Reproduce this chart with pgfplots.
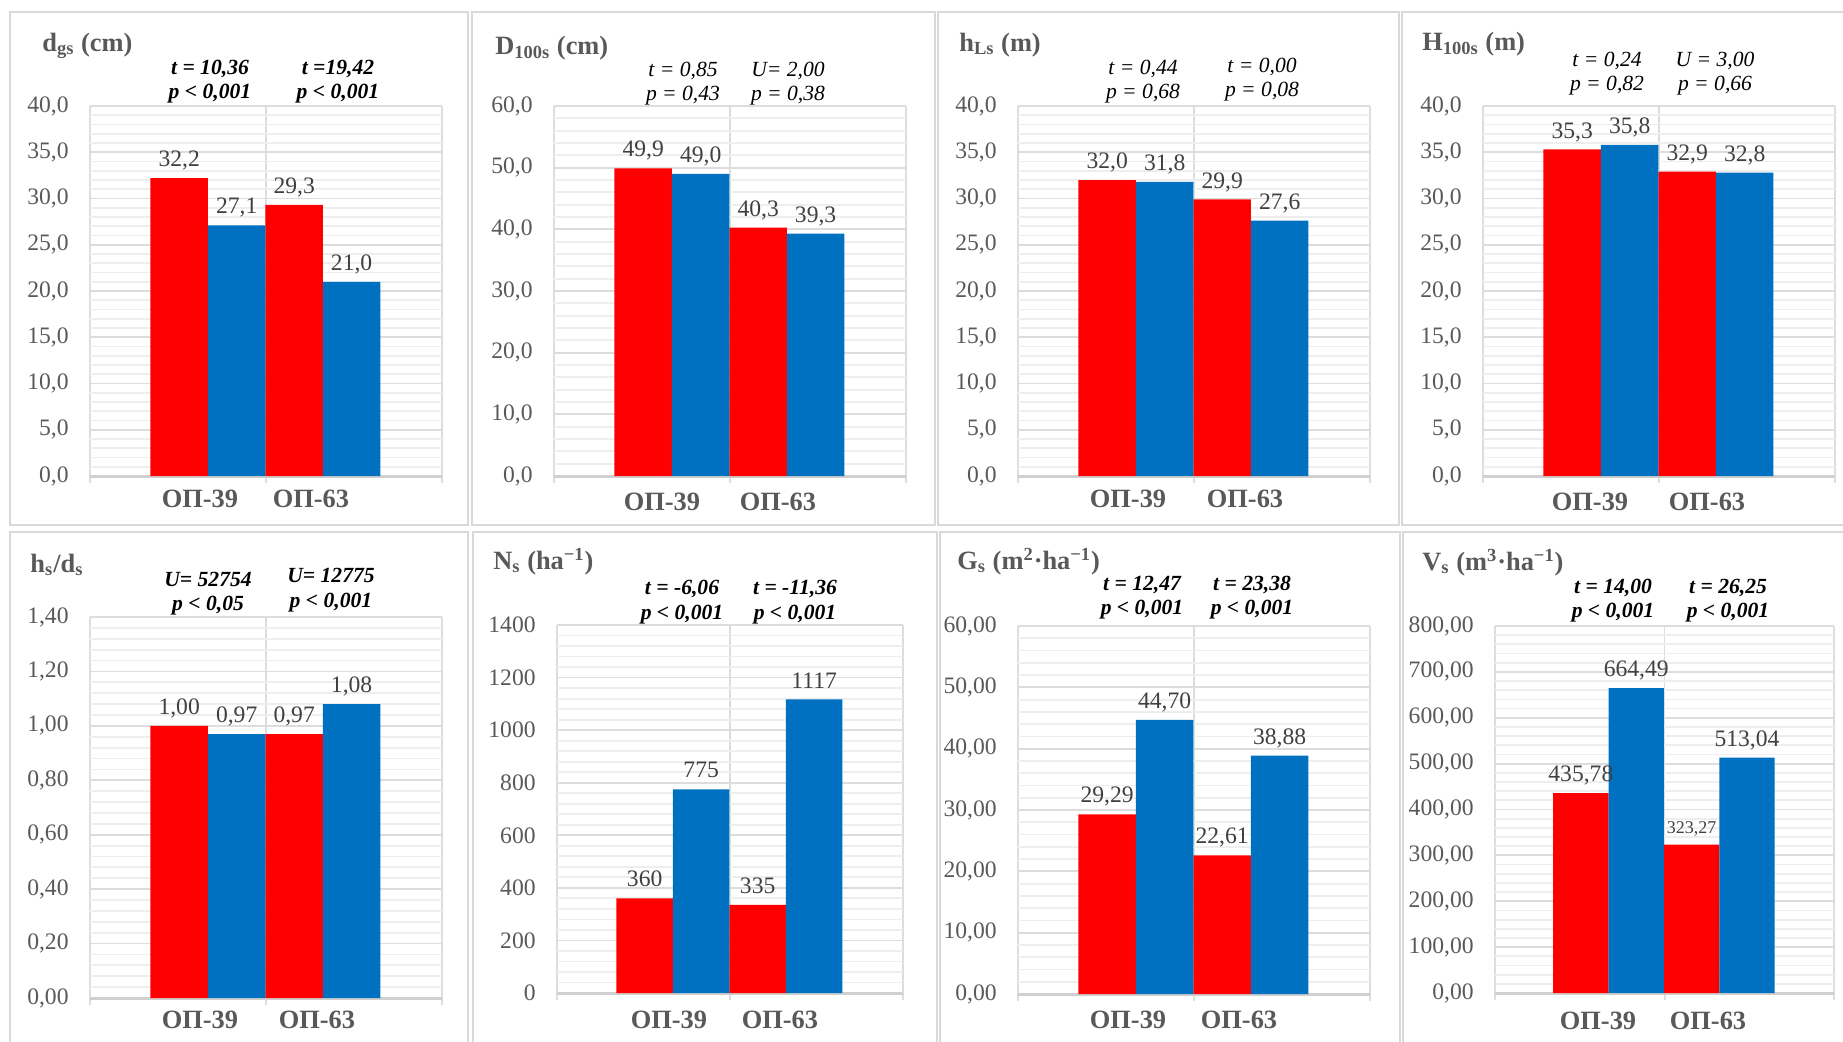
\documentclass[border=0pt]{standalone}
\usepackage{pgfplots}
\pgfplotsset{compat=1.18}
\usepackage{fontspec}
\setmainfont{Liberation Serif}
\definecolor{barred}{HTML}{FF0000}
\definecolor{barblue}{HTML}{0070C0}
\definecolor{txtgray}{HTML}{595959}
\definecolor{lblgray}{HTML}{404040}
\definecolor{gridc}{HTML}{DDDDDD}
\definecolor{minorc}{HTML}{EEEEEE}
\definecolor{axisc}{HTML}{D0D0D0}
\definecolor{panelc}{HTML}{D9D9D9}
\newcommand\tickfont{\fontsize{11.8}{13}\selectfont}
\newcommand\lblfont{\fontsize{11.8}{13}\selectfont}
\newcommand\annfont{\fontsize{10.8}{12}\selectfont}
\newcommand\xlfont{\fontsize{13.2}{14}\selectfont\bfseries}
\newcommand\ttlfont{\fontsize{13.2}{14}\selectfont\bfseries}
\newcommand\ann[6]{%
  \node[anchor=base, inner sep=0pt, font=\annfont#1] at (#2,#3) {#5};
  \node[anchor=base, inner sep=0pt, font=\annfont#1] at (#2,#4) {#6};}
\newcommand\xl[3]{%
  \node[anchor=center, inner sep=0pt, font=\xlfont, text=txtgray] at (#1,#3) {ОП-39};
  \node[anchor=center, inner sep=0pt, font=\xlfont, text=txtgray] at (#2,#3) {ОП-63};}
\newcommand\ttl[3]{\node[anchor=base west, inner sep=0pt, font=\ttlfont, text=txtgray] at (#1,#2) {#3};}
\pgfplotsset{
  panel/.style={
    scale only axis, anchor=south west,
    xmin=0, xmax=6, ymin=0,
    axis x line*=bottom, axis y line*=left,
    x axis line style={draw=axisc, line width=1.5pt, -},
    y axis line style={draw=none},
    xtick={0,3,6}, xticklabel=\empty, xmajorgrids, xtick align=outside,
    major tick length=3.5pt,
    xtick style={color=gridc, line width=1pt},
    ytick style={draw=none},
    ymajorgrids, yminorgrids, minor y tick num=4,
    minor tick style={draw=none},
    major grid style={color=gridc, line width=0.9pt},
    minor grid style={color=minorc, line width=0.9pt},
    yticklabel style={font=\tickfont, text=txtgray, inner sep=0pt, xshift=-10.5pt},
    /pgf/number format/assume math mode=true,
    /pgf/number format/use comma,
    /pgf/number format/fixed,
    /pgf/number format/fixed zerofill,
    /pgf/number format/1000 sep={},
    every node near coord/.append style={font=\lblfont, text=lblgray, inner sep=0pt, text depth=0pt, yshift=5.5pt},
    clip=false,
  },
  redbar/.style={ybar, bar width=0.98, bar shift=0pt, fill=barred, draw=none, nodes near coords, point meta=explicit symbolic},
  bluebar/.style={ybar, bar width=0.98, bar shift=0pt, fill=barblue, draw=none, nodes near coords, point meta=explicit symbolic},
}
\begin{document}
\begin{tikzpicture}
\useasboundingbox (0,0) rectangle (921.5pt,-520.5pt);
\clip (0,0) rectangle (921.5pt,-520.5pt);

% ---------- row 1 ----------
\begin{axis}[panel, at={(45pt,-238pt)}, width=176pt, height=185pt, ymax=40,
  ytick={0,5,10,15,20,25,30,35,40}, /pgf/number format/precision=1]
\addplot[redbar] coordinates {(1.52,32.2) [32,2] (3.48,29.3) [29,3]};
\addplot[bluebar] coordinates {(2.5,27.1) [27,1] (4.46,21.0) [21,0]};
\end{axis}

\begin{axis}[panel, at={(277pt,-238pt)}, width=176pt, height=185pt, ymax=60,
  ytick={0,10,20,30,40,50,60}, /pgf/number format/precision=1]
\addplot[redbar] coordinates {(1.52,49.9) [49,9] (3.48,40.3) [40,3]};
\addplot[bluebar] coordinates {(2.5,49.0) [49,0] (4.46,39.3) [39,3]};
\end{axis}

\begin{axis}[panel, at={(509pt,-238pt)}, width=176pt, height=185pt, ymax=40,
  ytick={0,5,10,15,20,25,30,35,40}, /pgf/number format/precision=1]
\addplot[redbar] coordinates {(1.52,32.0) [32,0] (3.48,29.9) [29,9]};
\addplot[bluebar] coordinates {(2.5,31.8) [31,8] (4.46,27.6) [27,6]};
\end{axis}

\begin{axis}[panel, at={(741.5pt,-238pt)}, width=176pt, height=185pt, ymax=40,
  ytick={0,5,10,15,20,25,30,35,40}, /pgf/number format/precision=1]
\addplot[redbar] coordinates {(1.52,35.3) [35,3] (3.48,32.9) [32,9]};
\addplot[bluebar] coordinates {(2.5,35.8) [35,8] (4.46,32.8) [32,8]};
\end{axis}

% ---------- row 2 ----------
\begin{axis}[panel, at={(45pt,-499pt)}, width=176pt, height=190.5pt, ymax=1.4,
  ytick={0,0.2,0.4,0.6,0.8,1.0,1.2,1.4}, /pgf/number format/precision=2]
\addplot[redbar] coordinates {(1.52,1.00) [1,00] (3.48,0.97) [0,97]};
\addplot[bluebar] coordinates {(2.5,0.97) [0,97] (4.46,1.08) [1,08]};
\end{axis}

\begin{axis}[panel, at={(278.5pt,-496.5pt)}, width=173pt, height=184pt, ymax=1400,
  ytick={0,200,400,600,800,1000,1200,1400}, /pgf/number format/precision=0]
\addplot[redbar] coordinates {(1.52,360) [360] (3.48,335) [335]};
\addplot[bluebar] coordinates {(2.5,775) [775] (4.46,1117) [1117]};
\end{axis}

\begin{axis}[panel, at={(509pt,-497pt)}, width=176pt, height=184pt, ymax=60,
  ytick={0,10,20,30,40,50,60}, /pgf/number format/precision=2]
\addplot[redbar] coordinates {(1.52,29.29) [29,29] (3.48,22.61) [22,61]};
\addplot[bluebar] coordinates {(2.5,44.70) [44,70] (4.46,38.88) [38,88]};
\end{axis}

\begin{axis}[panel, at={(747.5pt,-496.5pt)}, width=169.5pt, height=183.5pt, ymax=800,
  ytick={0,100,200,300,400,500,600,700,800}, /pgf/number format/precision=2]
\addplot[redbar] coordinates {(1.52,435.78) [435,78] (3.48,323.27) [{\fontsize{9}{10}\selectfont 323,27}]};
\addplot[bluebar] coordinates {(2.5,664.49) [664,49] (4.46,513.04) [513,04]};
\end{axis}

\begin{scope}[x=0.5pt, y=-0.5pt]
% panel frames
\draw[panelc, line width=1pt] (10,12) rectangle (468,525);
\draw[panelc, line width=1pt] (472,12) rectangle (935,525);
\draw[panelc, line width=1pt] (938,12) rectangle (1399,525);
\draw[panelc, line width=1pt] (1402,12) rectangle (1850,525);
\draw[panelc, line width=1pt] (10,532) rectangle (468,1050);
\draw[panelc, line width=1pt] (473,532) rectangle (937,1050);
\draw[panelc, line width=1pt] (940,532) rectangle (1400,1050);
\draw[panelc, line width=1pt] (1403,532) rectangle (1850,1050);

% titles
\ttl{42}{51}{d\textsubscript{gs} (cm)}
\ttl{495}{54}{D\textsubscript{100s} (cm)}
\ttl{959}{51}{h\textsubscript{Ls} (m)}
\ttl{1422}{50}{H\textsubscript{100s} (m)}
\ttl{30}{572}{h\textsubscript{s}/d\textsubscript{s}}
\ttl{493}{569}{N\textsubscript{s} (ha\textsuperscript{−1})}
\ttl{957}{569}{G\textsubscript{s} (m\textsuperscript{2}·ha\textsuperscript{−1})}
\ttl{1422}{570}{V\textsubscript{s} (m\textsuperscript{3}·ha\textsuperscript{−1})}

% annotations
\ann{\bfseries\itshape}{210}{74}{98}{t = 10,36}{p < 0,001}
\ann{\bfseries\itshape}{338}{74}{98}{t =19,42}{p < 0,001}
\ann{\itshape}{683}{76}{100}{t = 0,85}{p = 0,43}
\ann{\itshape}{788}{76}{100}{U= 2,00}{p = 0,38}
\ann{\itshape}{1143}{74}{98}{t = 0,44}{p = 0,68}
\ann{\itshape}{1262}{72}{96}{t = 0,00}{p = 0,08}
\ann{\itshape}{1607}{66}{90}{t = 0,24}{p = 0,82}
\ann{\itshape}{1715}{66}{90}{U = 3,00}{p = 0,66}
\ann{\bfseries\itshape}{208}{586}{610}{U= 52754}{p < 0,05}
\ann{\bfseries\itshape}{331}{582}{607}{U= 12775}{p < 0,001}
\ann{\bfseries\itshape}{682}{594}{619}{t = -6,06}{p < 0,001}
\ann{\bfseries\itshape}{795}{594}{619}{t = -11,36}{p < 0,001}
\ann{\bfseries\itshape}{1142}{590}{614}{t = 12,47}{p < 0,001}
\ann{\bfseries\itshape}{1252}{590}{614}{t = 23,38}{p < 0,001}
\ann{\bfseries\itshape}{1613}{593}{617}{t = 14,00}{p < 0,001}
\ann{\bfseries\itshape}{1728}{593}{617}{t = 26,25}{p < 0,001}

% x labels
\xl{200}{311}{499}
\xl{662}{778}{502}
\xl{1128}{1245}{499}
\xl{1590}{1707}{502}
\xl{200}{317}{1020}
\xl{669}{780}{1020}
\xl{1128}{1239}{1020}
\xl{1598}{1708}{1021}
\end{scope}
\end{tikzpicture}
\end{document}
